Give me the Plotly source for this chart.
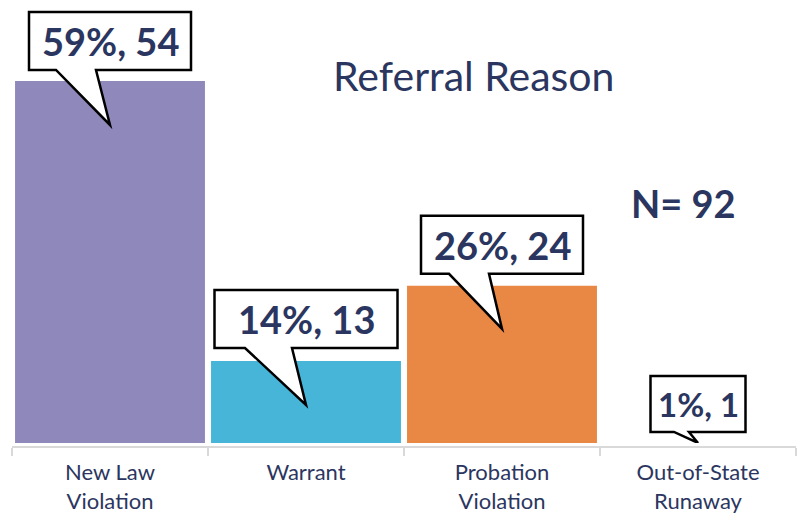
import plotly.graph_objects as go

# ---- data ----
categories = ["New Law<br>Violation", "Warrant", "Probation<br>Violation", "Out-of-State<br>Runaway"]
counts = [54, 13, 24, 1]
percents = [59, 14, 26, 1]
total_n = 92
title_text = "Referral Reason"

# ---- styles ----
bar_colors = ["#8f89bb", "#46b5d7", "#e98844", "#9bbb59"]
navy = "#2b3660"
FONT = "Lato, 'Open Sans', sans-serif"

# callout geometry (pixels, relative to bar top centre)
box_w = [162, 183, 162, 95]
box_h = [58, 58, 58, 56]
box_gap = [11, 13, 12, 11]
tip_dy = [-44, -44, -43, 0]
ptr_l = [-54, -61, -53, -24]
ptr_r = [-14, -14, -13, -9]
label_size = [38, 38, 38, 33]

fig = go.Figure()
fig.add_trace(go.Bar(
    x=categories, y=counts,
    marker=dict(color=bar_colors, line=dict(width=0)),
    hoverinfo="skip", showlegend=False,
))

shapes = []
annotations = []
for i, (cat, c, p) in enumerate(zip(categories, counts, percents)):
    L, R = -box_w[i] / 2, box_w[i] / 2
    yb = box_gap[i]
    yt = yb + box_h[i]
    path = (f"M{L},{yb} L{ptr_l[i]},{yb} L0,{tip_dy[i]} L{ptr_r[i]},{yb} "
            f"L{R},{yb} L{R},{yt} L{L},{yt} Z")
    shapes.append(dict(
        type="path", path=path, xref="x", yref="y",
        xsizemode="pixel", ysizemode="pixel", xanchor=cat, yanchor=c,
        fillcolor="white", line=dict(color="black", width=2.5), layer="above",
    ))
    annotations.append(dict(
        x=cat, y=c, xref="x", yref="y", yshift=yb + box_h[i] / 2,
        xanchor="center", yanchor="middle",
        text=f"<b>{p}%, {c}</b>", showarrow=False,
        font=dict(family=FONT, size=label_size[i], color=navy),
    ))

annotations.append(dict(
    x=0.589, y=0.830, xref="paper", yref="paper", text=title_text,
    xanchor="center", yanchor="middle",
    showarrow=False, font=dict(family=FONT, size=41, color=navy),
))
annotations.append(dict(
    x=0.856, y=0.546, xref="paper", yref="paper", text=f"<b>N= {total_n}</b>",
    xanchor="center", yanchor="middle",
    showarrow=False, font=dict(family=FONT, size=38, color=navy),
))

fig.update_layout(
    width=797, height=514,
    margin=dict(l=12, r=1, t=0, b=67),
    paper_bgcolor="white", plot_bgcolor="white",
    bargap=0.031,
    shapes=shapes, annotations=annotations,
    xaxis=dict(
        type="category", tickson="boundaries",
        anchor="free", position=0,
        showline=True, linecolor="#d9d9d9", linewidth=2,
        ticks="outside", ticklen=8, tickcolor="#d9d9d9", tickwidth=2,
        ticklabelstandoff=6, automargin=False,
        showgrid=False, zeroline=False,
        tickfont=dict(family=FONT, size=22, color=navy),
    ),
    yaxis=dict(
        domain=[4 / 447, 1], range=[0.99, 65.86],
        visible=False, showgrid=False, zeroline=False,
    ),
)

fig.write_html("out.html", config={"displayModeBar": False},
               post_script="document.body.style.margin='0';")
